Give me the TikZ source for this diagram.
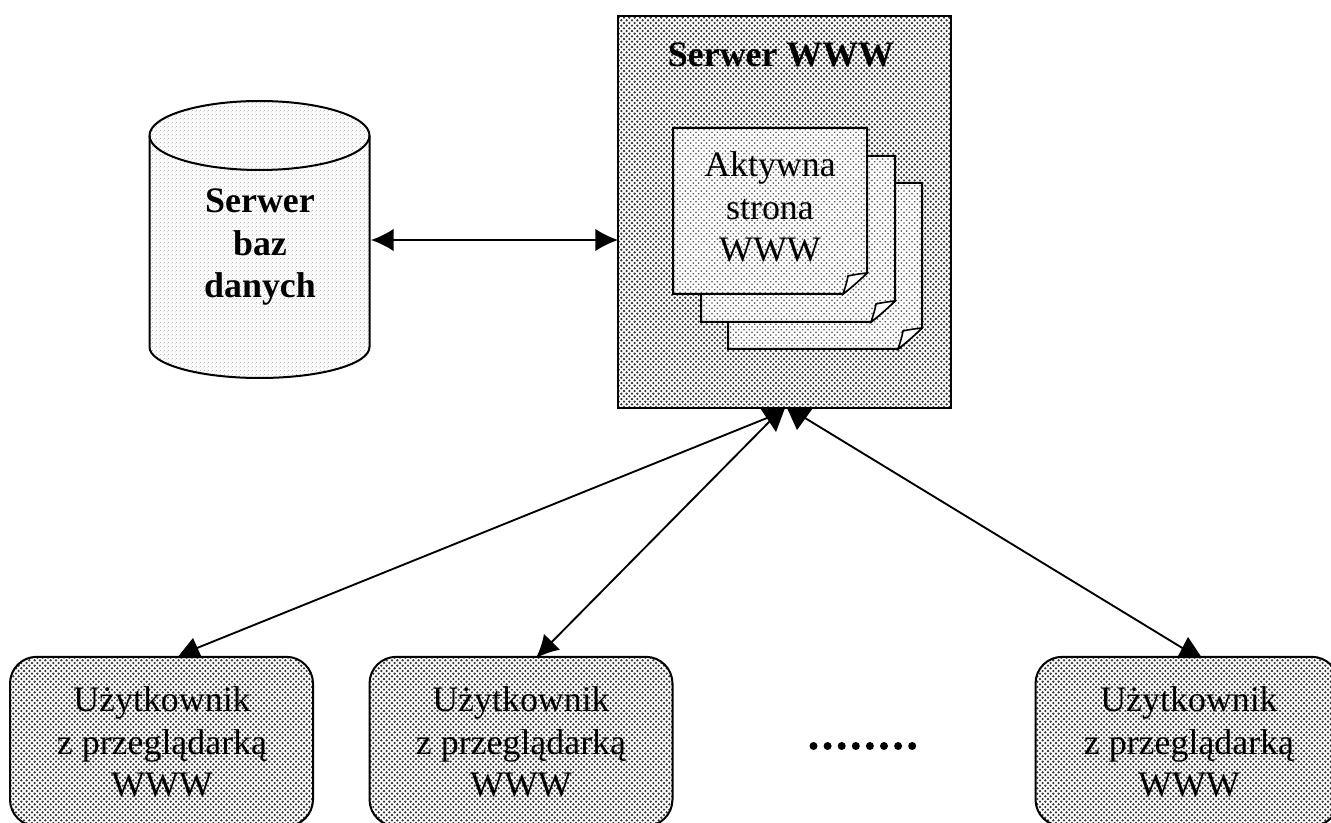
\documentclass[tikz,border=0pt]{standalone}
\usepackage{fontspec}
\setmainfont{Liberation Serif}
\usetikzlibrary{patterns,arrows.meta}
\makeatletter
\pgfdeclarepatternformonly{darkdots}{\pgfqpoint{-1pt}{-1pt}}{\pgfqpoint{3pt}{3pt}}{\pgfqpoint{4pt}{4pt}}{%
  \pgfpathcircle{\pgfqpoint{0pt}{0pt}}{0.98pt}%
  \pgfpathcircle{\pgfqpoint{2pt}{2pt}}{0.98pt}%
  \pgfusepath{fill}}
\pgfdeclarepatternformonly{pagedots}{\pgfqpoint{-1pt}{-1pt}}{\pgfqpoint{3pt}{3pt}}{\pgfqpoint{4pt}{4pt}}{%
  \pgfpathcircle{\pgfqpoint{0pt}{0pt}}{0.72pt}%
  \pgfpathcircle{\pgfqpoint{2pt}{2pt}}{0.72pt}%
  \pgfusepath{fill}}
\pgfdeclarepatternformonly{lightdots}{\pgfqpoint{-1pt}{-1pt}}{\pgfqpoint{2pt}{2pt}}{\pgfqpoint{3pt}{3pt}}{%
  \pgfpathcircle{\pgfqpoint{0pt}{0pt}}{0.42pt}%
  \pgfpathcircle{\pgfqpoint{1.5pt}{1.5pt}}{0.42pt}%
  \pgfusepath{fill}}
\makeatother
\tikzset{
  ink/.style={line width=1.5pt,draw=black},
  darkfill/.style={ink,pattern=darkdots,pattern color=black!78},
  pagefill/.style={ink,pattern=pagedots,pattern color=black!62},
  cylfill/.style={ink,pattern=lightdots,pattern color=black!50},
  userbox/.style={darkfill,rounded corners=20pt,minimum width=227.25pt,minimum height=127pt,outer sep=0pt},
  label/.style={align=center,font=\fontsize{26.9}{32}\selectfont,inner sep=0pt},
  boldlabel/.style={label,font=\fontsize{26.9}{32}\selectfont\bfseries},
  wire/.style={line width=1.4pt,draw=black},
  biwire/.style={wire,{Latex[length=17pt,width=17pt]}-{Latex[length=17pt,width=17pt]}},
  headtri/.style={fill=black,draw=none}
}
\begin{document}
\begin{tikzpicture}[x=.75pt,y=-.75pt]
\clip (0,0) rectangle (1331,823);
\fill[white] (0,0) rectangle (1331,823);

% server
\node[darkfill,minimum width=249.75pt,minimum height=294pt,outer sep=0pt] (srv) at (784.5,212) {};
\node[boldlabel] (srvt) at (781,55) {Serwer WWW};

% pages
\foreach \d in {55,28,0}{
  \begin{scope}[shift={(\d,\d)}]
    \fill[white] (673,128) -- (867,128) -- (867,273) -- (843,294) -- (673,294) -- cycle;
    \path[pagefill] (673,128) -- (867,128) -- (867,273) -- (843,294) -- (673,294) -- cycle;
    \draw[ink,line width=1.2pt,fill=white] (867,273) .. controls (858,274) and (852,275) .. (848,276) .. controls (847,282) and (845,288) .. (843,294) .. controls (851,288) and (860,280) .. (867,273) -- cycle;
  \end{scope}
}
\node[label] (paget) at (770,207) {Aktywna\\strona\\WWW};

% database
\path[cylfill] (149.5,135.5) arc[start angle=180,end angle=360,x radius=110,y radius=34.5] -- (369.5,347) arc[start angle=0,end angle=180,x radius=110,y radius=31] -- cycle;
\draw[ink] (149.5,135.5) arc[start angle=180,end angle=0,x radius=110,y radius=34.5];
\node[boldlabel] (dbt) at (260,247) {Serwer\\baz\\danych};
\coordinate (dbr) at (371,240);

% users
\foreach \n/\cx/\tx in {ua/161.5/162,ub/521/521,uc/1187/1189}{
  \node[userbox] (\n) at (\cx,741.5) {};
  \node[label] (\n t) at (\tx,742) {Użytkownik\\z przeglądarką\\WWW};
}

% connectors
\draw[biwire] (dbr) -- (dbr -| srv.west);

\coordinate (s1) at (767,418);
\coordinate (s2) at (770,421);
\coordinate (s3) at (805,418);
\coordinate (a1) at (197,648);
\coordinate (a2) at (536,658);
\coordinate (a3) at (1184,649);

\draw[wire] (a1) -- (s1);
\draw[wire,-{Latex[length=17pt,width=17pt]}] (s2) -- (a2);
\draw[wire] (a3) -- (s3);

\fill[headtri] (177,658) -- (202,658) -- (193,638) -- cycle;
\fill[headtri] (1177,658) -- (1202,658) -- (1188,637) -- cycle;
\fill[headtri] (760,408) -- (785,408) -- (776,432) -- cycle;
\fill[headtri] (787,408) -- (813,408) -- (797,430) -- cycle;

% ellipsis
\foreach \i in {0,...,7}{
  \fill (813.5+14.1*\i,746) circle[radius=3pt];
}
\end{tikzpicture}
\end{document}
